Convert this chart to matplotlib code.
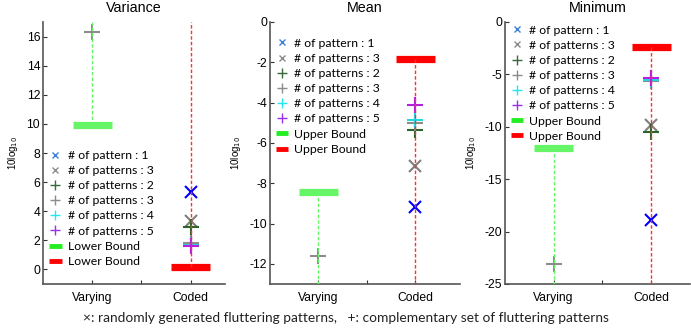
import matplotlib
matplotlib.use("Agg")
import matplotlib.pyplot as plt

# ---- data ----
titles = ["Variance", "Mean", "Minimum"]
categories = ["Varying", "Coded"]
series_labels = ["# of pattern : 1", "# of patterns : 3", "# of patterns : 2",
                 "# of patterns : 3", "# of patterns : 4", "# of patterns : 5"]
bound_labels = ["Lower Bound", "Upper Bound", "Upper Bound"]

# coded values, order: x1, x3, +2, +3, +4, +5
variance_coded = [5.35, 3.3, 2.95, 1.85, 1.65, 1.6]
mean_coded = [-9.2, -7.15, -5.37, -5.0, -4.85, -4.1]
minimum_coded = [-18.9, -9.85, -10.5, -5.65, -5.5, -5.35]
coded_values = [variance_coded, mean_coded, minimum_coded]

# varying: complementary set "+ # of patterns : 3"
varying_plus3 = [16.3, -11.6, -23.05]
bound_varying = [9.95, -8.45, -12.0]
bound_coded = [0.2, -1.82, -2.35]

ylims = [(-1, 17), (-13, 0), (-25, 0)]
yticks = [[0, 2, 4, 6, 8, 10, 12, 14, 16],
          [-12, -10, -8, -6, -4, -2, 0],
          [-25, -20, -15, -10, -5, 0]]
xlims = [(0.5, 2.35), (0.5, 2.46), (0.5, 2.4)]
bound_up = [True, False, False]  # direction of dashed line from bound

# ---- styles ----
markers = ["x", "x", "+", "+", "+", "+"]
colors = ["#0000ff", "#7f7f7f", "#2a662a", "#8c8c8c", "#22d8e0", "#b81ee0"]
legend_colors = ["#3a80d8", "#8c8c8c", "#3a6a3a", "#8c8c8c", "#22e8f0", "#9a30ee"]
msizes = [8, 8, 11, 11, 11, 11]
green = "#66f566"
red = "#ff0000"

W, H = 691, 334
fig = plt.figure(figsize=(W / 100, H / 100), dpi=100)
axes_px = [(43, 225), (270, 460), (505, 690)]
top_px, bot_px = 22, 284

tick_font = {"family": ["Liberation Sans", "DejaVu Sans"], "size": 8.7}
leg_anchor = [(0.035, 0.512), (0.03, 0.94), (0.03, 0.99)]

for i in range(3):
    l, r = axes_px[i]
    ax = fig.add_axes([l / W, 1 - bot_px / H, (r - l) / W, (bot_px - top_px) / H])
    ax.set_xlim(*xlims[i])
    ax.set_ylim(*ylims[i])
    yb, yt = ylims[i]

    handles = []
    # coded markers
    for k in range(6):
        h, = ax.plot([2], [coded_values[i][k]], linestyle="none", marker=markers[k],
                     color=colors[k], markersize=msizes[k], markeredgewidth=1.5,
                     label=series_labels[k], zorder=3)
        handles.append(h)
    # varying complementary +3
    ax.plot([1], [varying_plus3[i]], linestyle="none", marker="+", color=colors[3],
            markersize=11, markeredgewidth=1.5, zorder=3)

    # bounds as thick bars
    hb1 = ax.hlines(bound_varying[i], 0.8, 1.2, color=green, linewidth=5.2, zorder=2,
                    label=bound_labels[i])
    hb2 = ax.hlines(bound_coded[i], 1.8, 2.2, color=red, linewidth=5.2, zorder=2,
                    label=bound_labels[i])
    # dashed lines from bounds
    end = yt if bound_up[i] else yb
    ax.plot([1, 1], [bound_varying[i], end], color=green, linewidth=1,
            linestyle=(0, (2.5, 1.5)), zorder=4)
    ax.plot([2, 2], [bound_coded[i], end], color="#ff3030", linewidth=1,
            linestyle=(0, (2.5, 1.5)), zorder=4)

    # axes styling
    for s in ["top", "right"]:
        ax.spines[s].set_visible(False)
    for s in ["left", "bottom"]:
        ax.spines[s].set_color("#555555")
        ax.spines[s].set_linewidth(1.2)
    ax.set_xticks([1, 1.5, 2])
    ax.set_xticklabels([categories[0], "", categories[1]], fontdict=tick_font)
    ax.set_yticks(yticks[i])
    ax.set_yticklabels([str(v) for v in yticks[i]], fontdict=tick_font)
    ax.tick_params(direction="in", length=3, width=0.8, color="#333333", pad=2)
    ax.tick_params(axis="x", pad=6)
    ax.set_title(titles[i], fontsize=10.3, family=["Liberation Sans", "DejaVu Sans"],
                 pad=7)
    ax.set_ylabel("10log$_{10}$", fontsize=7, family=["Liberation Sans", "DejaVu Sans"],
                  labelpad=5)

    leg = ax.legend(handles=handles + [hb1, hb2], loc="upper left",
                    bbox_to_anchor=leg_anchor[i], frameon=False,
                    prop={"family": ["Lato", "DejaVu Sans"], "size": 8.8},
                    handlelength=1.0, handletextpad=0.5, labelspacing=0.34,
                    borderpad=0, borderaxespad=0, markerscale=0.6)
    lh = leg.legend_handles
    for k in range(6):
        lh[k].set_color(legend_colors[k])
        lh[k].set_markeredgewidth(1.0)
    lh[6].set_linewidth(3.5)
    lh[7].set_linewidth(3.5)
    lh[6].set_color("#22ee22")

fig.text(346 / W, 1 - 318 / H,
         "\u00d7: randomly generated fluttering patterns,   +: complementary set of fluttering patterns",
         ha="center", va="center", fontsize=9.9, family=["Lato", "DejaVu Sans"],
         color="#222222")

fig.savefig("out.png", dpi=100)
